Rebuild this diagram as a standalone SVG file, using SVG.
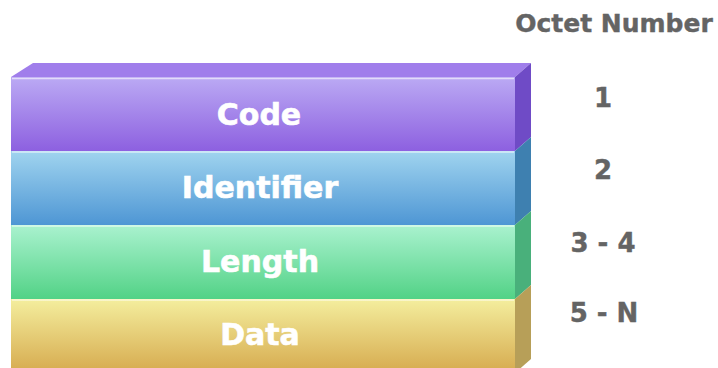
<svg xmlns="http://www.w3.org/2000/svg" width="718" height="368" viewBox="0 0 718 368">
<style>
.lbl{font-family:"DejaVu Sans",Verdana,sans-serif;font-weight:bold;font-size:30px;fill:#ffffff;stroke:#ffffff;stroke-width:0.6;text-anchor:middle}
.num{font-family:"DejaVu Sans",Verdana,sans-serif;font-weight:bold;font-size:26px;fill:#646464;stroke:#646464;stroke-width:0.4;text-anchor:middle}
.sep{stroke:#ffffff;stroke-opacity:0.6;stroke-width:1.5}
</style>
<defs>
<linearGradient id="gCode" x1="0" y1="0" x2="0" y2="1"><stop offset="0" stop-color="#bbaaf4"/><stop offset="1" stop-color="#8d60e0"/></linearGradient>
<linearGradient id="gId" x1="0" y1="0" x2="0" y2="1"><stop offset="0" stop-color="#a0d4ef"/><stop offset="1" stop-color="#4e96d4"/></linearGradient>
<linearGradient id="gLen" x1="0" y1="0" x2="0" y2="1"><stop offset="0" stop-color="#aaf2cf"/><stop offset="1" stop-color="#52d286"/></linearGradient>
<linearGradient id="gData" x1="0" y1="0" x2="0" y2="1"><stop offset="0" stop-color="#f4ee9e"/><stop offset="1" stop-color="#d6aa4e"/></linearGradient>
</defs>
<rect width="718" height="368" fill="#ffffff"/>
<g id="top">
<polygon points="11,77 33,63 531,63 515,77" fill="#a07eeb"/>
</g>
<g id="code">
<rect x="11" y="77" width="504" height="74" fill="url(#gCode)"/>
<polygon points="515,77 531,63 531,137 515,151" fill="#6f4bc6"/>
<line class="sep" x1="12" y1="78.5" x2="514" y2="78.5"/>
<text class="lbl" x="259" y="125">Code</text>
</g>
<g id="identifier">
<rect x="11" y="151" width="504" height="74" fill="url(#gId)"/>
<polygon points="515,151 531,137 531,211 515,225" fill="#3e80b0"/>
<line class="sep" x1="12" y1="152" x2="514" y2="152"/>
<text class="lbl" x="260" y="198">Identifier</text>
</g>
<g id="length">
<rect x="11" y="225" width="504" height="74" fill="url(#gLen)"/>
<polygon points="515,225 531,211 531,285 515,299" fill="#49b07b"/>
<line class="sep" x1="12" y1="226" x2="514" y2="226"/>
<text class="lbl" x="260" y="272">Length</text>
</g>
<g id="data">
<rect x="11" y="299" width="504" height="74" fill="url(#gData)"/>
<polygon points="515,299 531,285 531,359 515,373" fill="#b79f58"/>
<line class="sep" x1="12" y1="300" x2="514" y2="300"/>
<text class="lbl" x="260" y="345">Data</text>
</g>
<g id="labels">
<text class="num" x="614" y="32" style="font-size:25px">Octet Number</text>
<text class="num" x="603" y="107">1</text>
<text class="num" x="603" y="179">2</text>
<text class="num" x="603" y="252">3 - 4</text>
<text class="num" x="604" y="322">5 - N</text>
</g>
<g id="connectors"/>
</svg>
